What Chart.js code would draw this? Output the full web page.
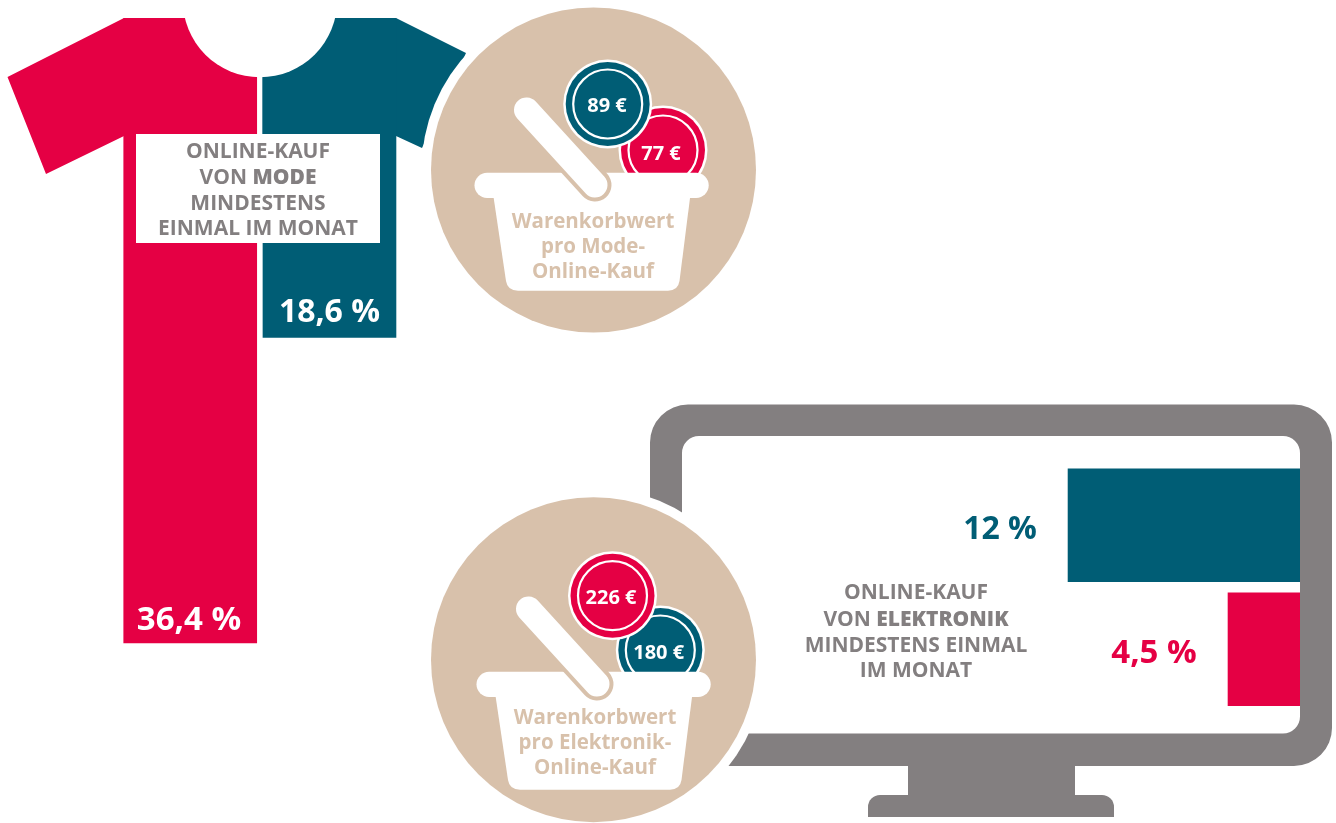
<!DOCTYPE html>
<html lang="de">
<head>
<meta charset="utf-8">
<title>Online-Kauf von Mode und Elektronik</title>
<script src="https://cdn.jsdelivr.net/npm/chart.js@4"></script>
<style>
  html, body { margin: 0; padding: 0; background: #fff; overflow: hidden; }
  #stage { position: relative; width: 1336px; height: 823px; }
  #stage canvas { position: absolute; left: 0; top: 0; }
</style>
</head>
<body>
<div id="stage">
  <canvas id="modeChart" width="1336" height="823"></canvas>
  <canvas id="techChart" width="1336" height="823"></canvas>
</div>
<script>
// Share of online shoppers, per group
const modeGroups  = ['Gruppe 1', 'Gruppe 2'];
const modeShare   = [36.4, 18.6];
const modeBasket  = [77, 89];

const techGroups  = ['Gruppe 2', 'Gruppe 1'];
const techShare   = [12, 4.5];
const techBasket  = [180, 226];

const modeTitle   = [['ONLINE-KAUF'], ['VON ', '*MODE'], ['MINDESTENS'], ['EINMAL IM MONAT']];
const techTitle   = [['ONLINE-KAUF'], ['VON ', '*ELEKTRONIK'], ['MINDESTENS EINMAL'], ['IM MONAT']];
const modeCaption = ['Warenkorbwert', 'pro Mode-', 'Online-Kauf'];
const techCaption = ['Warenkorbwert', 'pro Elektronik-', 'Online-Kauf'];

const RED  = '#e50044';
const TEAL = '#005d75';
const TAN  = '#d8c1ab';
const GREY = '#837f80';
const FONT = "'Open Sans'";

const de = v => String(v).replace('.', ',');

function poly(ctx, pts, color) {
  ctx.fillStyle = color;
  ctx.beginPath();
  pts.forEach((p, i) => i ? ctx.lineTo(p[0], p[1]) : ctx.moveTo(p[0], p[1]));
  ctx.closePath();
  ctx.fill();
}

function disc(ctx, x, y, r, color) {
  ctx.fillStyle = color;
  ctx.beginPath();
  ctx.arc(x, y, r, 0, Math.PI * 2);
  ctx.fill();
}

function label(ctx, text, x, y, size, color, weight) {
  ctx.font = `${weight} ${size}px ${FONT}`;
  ctx.fillStyle = color;
  ctx.textAlign = 'center';
  ctx.textBaseline = 'alphabetic';
  ctx.fillText(text, x, y);
}

// Centered line made of runs; a leading * marks the bold run
function titleLine(ctx, runs, cx, y) {
  ctx.textBaseline = 'alphabetic';
  ctx.textAlign = 'left';
  ctx.fillStyle = GREY;
  const parts = runs.map(r => {
    const bold = r[0] === '*';
    const text = bold ? r.slice(1) : r;
    const font = `${bold ? 800 : 700} 21px ${FONT}`;
    ctx.font = font;
    return { text, font, w: ctx.measureText(text).width };
  });
  let x = cx - parts.reduce((s, p) => s + p.w, 0) / 2;
  parts.forEach(p => {
    ctx.font = p.font;
    ctx.fillText(p.text, x, y);
    x += p.w;
  });
}

function coin(ctx, x, y, color, text, tx, ty) {
  disc(ctx, x, y, 44.5, '#fff');
  disc(ctx, x, y, 42, color);
  ctx.strokeStyle = '#fff';
  ctx.lineWidth = 2.2;
  ctx.beginPath();
  ctx.arc(x, y, 34.5, 0, Math.PI * 2);
  ctx.stroke();
  label(ctx, text, tx, ty, 20, '#fff', 700);
}

// Round badge with shopping basket; dx/dy shift the basket inside its disc
function basket(ctx, cy, dx, dy, coins, caption, captionY) {
  disc(ctx, 593.5, cy, 172, '#fff');
  disc(ctx, 593.5, cy, 162.5, TAN);
  coins.forEach(c => coin(ctx, c.x, c.y, c.color, c.text, c.tx, c.ty));

  // rim and body
  ctx.fillStyle = '#fff';
  ctx.beginPath();
  ctx.roundRect(474.5 + dx, 172.7 + dy, 234.2, 25.2, 12.6);
  ctx.fill();
  ctx.beginPath();
  ctx.moveTo(492.5 + dx, 190 + dy);
  ctx.lineTo(691 + dx, 190 + dy);
  ctx.lineTo(679.5 + dx, 281 + dy);
  ctx.quadraticCurveTo(678 + dx, 290.7 + dy, 668 + dx, 290.7 + dy);
  ctx.lineTo(518 + dx, 290.7 + dy);
  ctx.quadraticCurveTo(507.5 + dx, 290.7 + dy, 506 + dx, 281 + dy);
  ctx.closePath();
  ctx.fill();

  // handle, with a thin outline where it crosses the rim
  ctx.lineCap = 'round';
  [[TAN, 33], ['#fff', 25]].forEach(([color, width]) => {
    ctx.strokeStyle = color;
    ctx.lineWidth = width;
    ctx.beginPath();
    ctx.moveTo(526.5 + dx, 110 + dy);
    ctx.lineTo(595 + dx, 185 + dy);
    ctx.stroke();
  });
  ctx.lineCap = 'butt';

  caption.forEach((line, i) => label(ctx, line, 593 + dx, captionY + i * 25.2, 20.5, TAN, 700));
}

const shirtPlugin = {
  id: 'shirt',
  beforeDatasetsDraw(chart) {
    const ctx = chart.ctx;
    poly(ctx, [[124, 18], [256, 18], [256, 140], [124, 140], [124, 136], [46, 174], [7.5, 77]], RED);
    poly(ctx, [[262.5, 18], [396, 18], [466, 53], [422, 148], [396, 136], [396, 140], [262.5, 140]], TEAL);
  },
  afterDatasetsDraw(chart) {
    const ctx = chart.ctx;
    disc(ctx, 260, 0, 77.3, '#fff');

    ctx.fillStyle = '#fff';
    ctx.fillRect(136, 134, 244, 109);
    const lines = [157.7, 183.5, 210, 235];
    modeTitle.forEach((runs, i) => titleLine(ctx, runs, 258, lines[i]));

    const meta = chart.getDatasetMeta(0).data;
    label(ctx, de(modeShare[0]) + ' %', meta[0].x - 1.2, meta[0].y - 13, 33, '#fff', 700);
    label(ctx, de(modeShare[1]) + ' %', meta[1].x, meta[1].y - 15, 32, '#fff', 700);

    basket(ctx, 170, 0, 0, [
      { x: 663, y: 150, color: RED, text: modeBasket[0] + ' €', tx: 661, ty: 160 },
      { x: 607.7, y: 104, color: TEAL, text: modeBasket[1] + ' €', tx: 607, ty: 111.7 }
    ], modeCaption, 227.7);
  }
};

const monitorPlugin = {
  id: 'monitor',
  afterDatasetsDraw(chart) {
    const ctx = chart.ctx;
    // frame sits above the bars so their zero end disappears behind it
    ctx.fillStyle = GREY;
    ctx.beginPath();
    ctx.roundRect(650, 404.5, 682, 361.5, 38);
    ctx.roundRect(682, 436, 618, 297.5, 17);
    ctx.fill('evenodd');
    ctx.fillRect(908, 765, 167, 32);
    ctx.beginPath();
    ctx.roundRect(868, 795, 246, 22, [12, 12, 0, 0]);
    ctx.fill();

    const lines = [599, 625.7, 651.5, 677];
    techTitle.forEach((runs, i) => titleLine(ctx, runs, 916, lines[i]));

    const meta = chart.getDatasetMeta(0).data;
    label(ctx, de(techShare[0]) + ' %', 1000, meta[0].y + 13.7, 32, TEAL, 700);
    label(ctx, de(techShare[1]) + ' %', 1154, meta[1].y + 13.5, 33, RED, 700);

    basket(ctx, 659.7, 2, 499, [
      { x: 660.3, y: 650, color: TEAL, text: techBasket[0] + ' €', tx: 658.7, ty: 659 },
      { x: 612.5, y: 595.7, color: RED, text: techBasket[1] + ' €', tx: 611, ty: 604 }
    ], techCaption, 724);
  }
};

const quiet = {
  responsive: false,
  animation: false,
  events: [],
  plugins: { legend: { display: false }, tooltip: { enabled: false } }
};

// Garment bars hang down from the shoulder line
new Chart(document.getElementById('modeChart'), {
  type: 'bar',
  data: {
    labels: modeGroups,
    datasets: [{
      data: modeShare,
      backgroundColor: [RED, TEAL],
      barThickness: 133,
      borderWidth: 0
    }]
  },
  options: {
    ...quiet,
    layout: { padding: { left: 120.6, right: 1336 - 399.1, top: 18, bottom: 823 - 704.8 } },
    scales: {
      x: { display: false },
      y: { display: false, reverse: true, min: 0, max: 40 }
    }
  },
  plugins: [shirtPlugin]
});

// Screen bars grow leftward from behind the right edge of the frame
new Chart(document.getElementById('techChart'), {
  type: 'bar',
  data: {
    labels: techGroups,
    datasets: [{
      data: techShare,
      backgroundColor: [TEAL, RED],
      barThickness: 112.7,
      borderWidth: 0
    }]
  },
  options: {
    ...quiet,
    indexAxis: 'y',
    layout: { padding: { left: 1324 - 16 * 21.33, right: 12, top: 463.3, bottom: 823 - 711.3 } },
    scales: {
      x: { display: false, reverse: true, min: 0, max: 16 },
      y: { display: false }
    }
  },
  plugins: [monitorPlugin]
});
</script>
</body>
</html>
